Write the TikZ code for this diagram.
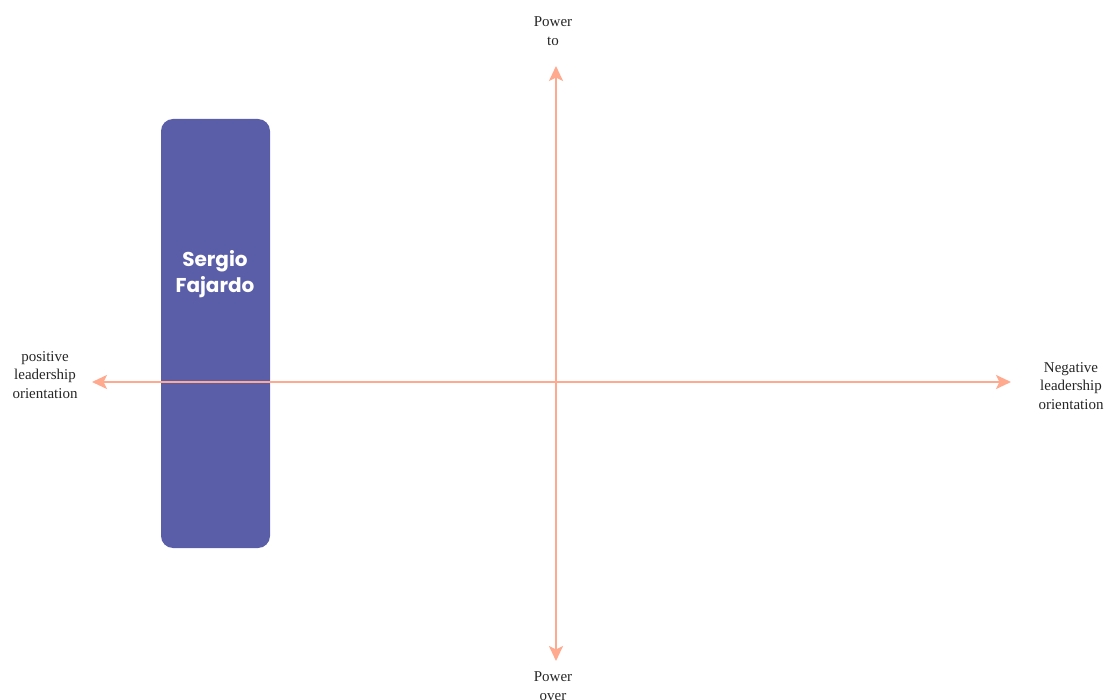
\documentclass[tikz,border=0pt]{standalone}
\usepackage{fontspec}
\setmainfont{Liberation Serif}
\newfontfamily\namefont{Poppins}[UprightFont=* Bold]
\usetikzlibrary{arrows.meta}
\definecolor{axiscol}{HTML}{FFA98F}
\definecolor{boxcol}{HTML}{5A5EA8}
\begin{document}
\begin{tikzpicture}[x=1pt,y=-1pt,
  axis/.style={draw=axiscol,line width=2.2pt,{Stealth[length=15pt,width=14pt,inset=3.5pt]}-{Stealth[length=15pt,width=14pt,inset=3.5pt]}},
  axislabel/.style={align=center,font=\fontsize{15}{18.5}\selectfont,inner sep=0pt,text=black!85},
  personbox/.style={fill=boxcol,rounded corners=12pt,inner sep=0pt}]
\useasboundingbox (0,0) rectangle (1108,700);
% candidate column
\node[personbox,minimum width=109pt,minimum height=429pt] (box) at (215.5,333.5) {};
\node[align=center,text=white,font=\namefont\fontsize{20}{26}\selectfont] (name) at (215,274) {Sergio\\Fajardo};
% axis end points
\coordinate (left) at (92,382);
\coordinate (right) at (1011,382);
\coordinate (top) at (556,66);
\coordinate (bottom) at (556,661);
\draw[axis] (left) -- (right);
\draw[axis] (bottom) -- (top);
% axis labels
\node[axislabel] (pto) at (553,31) {Power\\to};
\node[axislabel] (pover) at (553,686) {Power\\over};
\node[axislabel] (pos) at (45,375) {positive\\leadership\\orientation};
\node[axislabel] (neg) at (1071,386) {Negative\\leadership\\orientation};
\end{tikzpicture}
\end{document}
